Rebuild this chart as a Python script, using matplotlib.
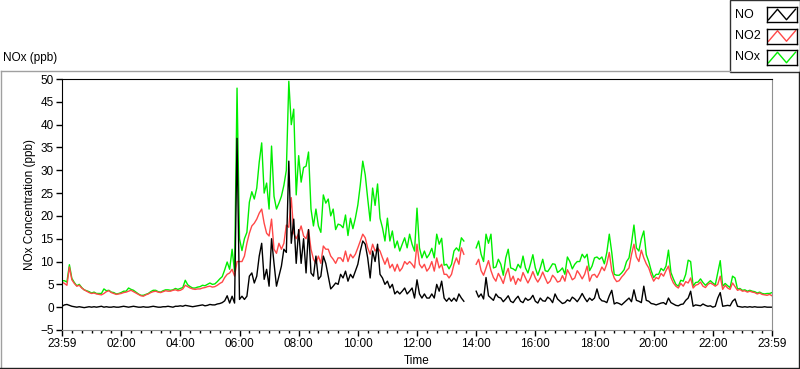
import matplotlib
matplotlib.use('Agg')
import matplotlib.pyplot as plt
import numpy as np
from matplotlib.lines import Line2D
from matplotlib.patches import Rectangle

nan = np.nan

# samples every 5 minutes, 23:59 -> 23:59 next day (289 points)
# night 00:00-05:35
no_night = [0.2, 0.5, 0.6, 0.4, 0.2, 0.1, 0.0, 0.1, 0.0, -0.1,
            0.0, 0.1, 0.0, 0.1, 0.0, 0.1, 0.2, 0.0, 0.1, 0.0,
            0.0, 0.1, 0.0, 0.0, 0.1, 0.2, 0.1, 0.0, 0.1, 0.2,
            0.1, 0.0, 0.0, 0.1, 0.0, 0.0, 0.1, 0.2, 0.1, 0.0,
            0.0, 0.1, 0.1, 0.2, 0.1, 0.0, 0.2, 0.2, 0.3, 0.2,
            0.4, 0.3, 0.2, 0.1, 0.2, 0.3, 0.4, 0.5, 0.3, 0.4,
            0.6, 0.5, 0.5, 0.7, 0.8, 1.0, 1.4, 2.5]
no2_night = [5.5, 5.2, 4.8, 8.8, 6.0, 5.2, 4.6, 4.8, 4.2, 3.8,
             3.5, 3.2, 3.0, 3.1, 2.9, 2.8, 2.7, 3.0, 3.4, 3.6,
             3.2, 3.0, 2.8, 2.9, 3.0, 3.2, 3.3, 3.5, 3.7, 3.4,
             3.1, 2.8, 2.5, 2.4, 2.7, 2.9, 3.2, 3.4, 3.5, 3.3,
             3.2, 3.4, 3.6, 3.5, 3.5, 3.7, 3.8, 3.6, 3.7, 4.0,
             4.8, 4.5, 4.2, 4.0, 3.9, 4.0, 4.0, 4.2, 4.3, 4.5,
             4.6, 4.4, 4.5, 4.8, 5.2, 5.5, 6.5, 7.2]
nox_night = [5.8, 5.8, 5.5, 9.3, 6.3, 5.4, 4.7, 5.0, 4.3, 3.8,
             3.6, 3.4, 3.1, 3.3, 3.0, 3.0, 3.0, 4.0, 3.6, 3.7,
             3.3, 3.2, 2.9, 3.0, 3.2, 3.5, 3.5, 4.2, 3.9, 3.7,
             3.3, 2.9, 2.6, 2.6, 2.8, 3.0, 3.4, 3.7, 3.7, 3.4,
             3.3, 3.6, 3.8, 3.8, 3.7, 3.8, 4.1, 3.9, 4.1, 4.3,
             5.9, 4.9, 4.5, 4.2, 4.2, 4.4, 4.5, 4.8, 4.7, 5.0,
             5.3, 5.0, 5.1, 5.6, 6.2, 6.7, 8.2, 9.9]

# day 05:40-13:35
no_day = [0.9, 2.4, 0.9, 37.0, 1.7, 2.4, 1.7, 2.4, 6.8, 7.5,
          5.3, 6.8, 11.2, 14.0, 6.1, 8.3, 4.6, 15.0, 9.6, 4.6,
          6.8, 9.0, 12.7, 12.0, 32.0, 14.0, 19.3, 9.6, 17.0, 9.6,
          15.0, 7.5, 17.0, 7.5, 6.8, 11.2, 6.1, 6.8, 11.2, 9.6,
          6.8, 4.0, 4.6, 5.3, 5.0, 7.2, 6.4, 7.9, 5.7, 7.2,
          6.4, 7.9, 9.4, 12.3, 14.5, 13.8, 10.8, 6.4, 12.3, 10.0,
          13.8, 7.2, 6.4, 5.0, 5.7, 4.2, 5.0, 2.9, 3.5, 2.9,
          3.5, 4.2, 2.9, 3.5, 4.2, 2.0, 6.0, 2.9, 2.0, 2.9,
          2.0, 2.0, 2.9, 2.0, 5.0, 3.5, 5.7, 2.0, 1.3, 2.0,
          1.3, 2.0, 1.3, 2.9, 2.0, 1.3]
no2_day = [7.5, 8.3, 6.8, 10.0, 10.0, 10.0, 11.2, 14.0, 16.2, 17.8,
           18.4, 19.3, 20.6, 21.5, 18.4, 16.2, 15.6, 19.3, 12.7, 11.8,
           14.0, 12.7, 14.0, 18.0, 17.5, 24.0, 16.2, 15.0, 16.2, 17.8,
           15.6, 15.0, 17.0, 12.7, 10.5, 9.6, 11.2, 9.6, 13.4, 12.7,
           12.7, 11.2, 10.5, 9.6, 10.8, 10.8, 10.0, 12.3, 10.0, 11.6,
           10.8, 11.6, 13.0, 14.5, 16.0, 15.2, 13.0, 11.6, 13.8, 12.3,
           13.0, 12.3, 10.8, 9.4, 10.8, 8.6, 9.4, 7.9, 9.4, 7.9,
           8.6, 10.0, 9.4, 10.0, 9.4, 8.6, 13.8, 9.4, 8.6, 9.4,
           7.9, 8.6, 10.0, 7.9, 10.8, 8.6, 9.4, 7.2, 7.2, 6.4,
           7.2, 9.4, 10.8, 9.4, 13.0, 11.6]
nox_day = [8.3, 12.7, 7.8, 48.0, 15.0, 12.4, 15.0, 16.4, 23.0, 25.3,
           23.7, 26.1, 31.8, 36.0, 25.0, 27.2, 21.5, 35.3, 24.3, 21.5,
           22.8, 24.3, 26.7, 30.0, 49.5, 40.0, 43.4, 24.6, 33.2, 27.4,
           30.6, 30.9, 34.0, 21.5, 17.8, 21.5, 17.8, 16.4, 24.6, 22.8,
           23.7, 20.0, 21.5, 17.0, 18.2, 18.0, 17.4, 20.2, 15.7, 19.5,
           17.2, 19.5, 22.4, 26.8, 32.0, 29.0, 23.8, 18.9, 26.1, 22.3,
           27.0, 19.5, 17.4, 14.5, 19.5, 14.5, 16.7, 13.0, 14.5, 12.3,
           13.8, 15.2, 13.0, 16.0, 13.8, 12.3, 21.7, 13.0, 10.8, 12.3,
           10.8, 11.6, 12.9, 10.8, 16.0, 13.8, 15.1, 9.2, 9.4, 8.4,
           9.4, 12.3, 13.0, 12.3, 15.2, 14.5]

# no data 13:40-13:55
gap = [nan, nan, nan, nan]

# afternoon / evening 14:00-24:00
no_eve = [3.5, 2.2, 2.9, 1.8, 6.5, 2.5, 2.0, 1.5, 2.9, 2.2,
          2.0, 1.2, 1.8, 2.5, 1.3, 1.0, 1.8, 2.4, 1.3, 1.0,
          2.0, 1.5, 1.8, 2.6, 1.3, 0.9, 2.0, 1.4, 1.3, 2.2,
          1.8, 1.0, 2.9, 1.8, 1.3, 0.8, 1.0, 1.6, 1.3, 2.2,
          1.8, 1.2, 2.0, 3.0, 2.0, 1.2, 2.0, 1.5, 2.0, 4.0,
          2.0, 1.4, 1.3, 1.0, 2.5, 3.7, 0.7, 1.0, 0.8, 0.5,
          1.0, 1.5, 2.0, 1.2, 3.8, 1.5, 1.3, 1.0, 4.6, 1.5,
          1.3, 0.8, 0.7, 0.5, 0.7, 0.9, 1.0, 0.6, 2.0, 1.0,
          0.7, 0.4, 0.3, 0.6, 0.7, 1.5, 2.0, 3.5, 0.2, 0.5,
          0.4, 0.3, 0.7, 0.4, 0.2, 0.3, 0.0, 0.2, 2.0, 3.2,
          0.2, 0.3, 0.4, 0.3, 1.3, 1.8, 0.2, 0.1, 0.0, 0.1,
          0.0, 0.1, 0.0, 0.1, 0.0, 0.0, 0.0, 0.1, 0.0, 0.0,
          0.0]
no2_eve = [9.4, 10.5, 8.0, 7.0, 8.6, 10.2, 8.0, 6.5, 5.7, 7.4,
           6.4, 5.2, 7.2, 8.5, 5.7, 6.8, 5.0, 6.3, 5.7, 7.6,
           6.4, 5.3, 6.4, 7.8, 6.4, 5.5, 6.4, 7.7, 6.4, 5.2,
           5.7, 7.0, 6.4, 5.5, 5.7, 6.9, 5.7, 8.2, 7.2, 6.0,
           6.4, 8.0, 7.2, 6.2, 7.2, 9.0, 5.7, 7.0, 7.2, 6.5,
           7.5, 8.8, 8.0, 9.5, 12.0, 8.0, 6.4, 5.6, 5.8, 6.6,
           7.2, 8.0, 8.6, 11.5, 13.8, 11.0, 10.0, 12.5, 10.8, 9.5,
           8.6, 7.0, 5.7, 6.5, 6.2, 7.4, 6.8, 8.0, 9.0, 6.5,
           5.3, 4.6, 4.2, 5.2, 4.6, 5.6, 5.3, 6.4, 4.2, 4.8,
           5.0, 5.5, 4.6, 4.3, 5.0, 5.3, 5.0, 4.6, 5.0, 6.8,
           3.9, 4.8, 4.2, 3.9, 5.3, 4.5, 3.7, 3.9, 3.5, 3.6,
           3.3, 3.5, 3.3, 3.2, 2.9, 3.1, 2.8, 2.7, 2.6, 2.8,
           2.5]
nox_eve = [13.0, 14.5, 11.6, 10.0, 16.0, 14.0, 16.0, 8.6, 8.8, 10.5,
           9.4, 7.0, 10.8, 12.7, 8.6, 8.4, 8.0, 9.4, 8.6, 11.2,
           8.6, 7.5, 9.4, 11.5, 8.6, 7.0, 8.6, 10.5, 8.0, 7.8,
           8.6, 9.5, 9.4, 7.6, 8.0, 8.6, 7.2, 11.0, 10.0, 8.4,
           9.4, 10.0, 10.0, 11.6, 10.8, 11.6, 8.0, 9.0, 10.8, 11.0,
           10.5, 11.0, 9.5, 12.0, 16.0, 12.0, 7.2, 7.0, 7.0, 7.5,
           8.2, 10.0, 10.8, 14.0, 18.0, 13.0, 12.3, 15.0, 16.7, 11.5,
           10.0, 8.0, 6.5, 7.2, 7.2, 8.5, 8.0, 9.0, 12.5, 7.6,
           6.2, 5.0, 4.6, 5.9, 5.7, 7.2, 10.3, 10.0, 4.6, 5.4,
           5.5, 6.2, 5.4, 4.8, 5.3, 5.8, 5.3, 4.9, 7.5, 10.2,
           4.6, 5.2, 4.7, 4.3, 6.8, 6.4, 4.0, 4.1, 3.7, 3.8,
           3.5, 3.7, 3.5, 3.4, 3.1, 3.3, 3.0, 2.9, 3.0, 3.0,
           3.2]

no = no_night + no_day + gap + no_eve
no2 = no2_night + no2_day + gap + no2_eve
nox = nox_night + nox_day + gap + nox_eve
hours = np.arange(len(no)) / 12.0

tick_hours = [0, 2, 4, 6, 8, 10, 12, 14, 16, 18, 20, 22, 24]
tick_labels = ['23:59', '02:00', '04:00', '06:00', '08:00', '10:00', '12:00',
               '14:00', '16:00', '18:00', '20:00', '22:00', '23:59']
series_names = ['NO', 'NO2', 'NOx']
series_colors = ['#000000', '#ff4848', '#00ee00']

plt.rcParams['font.family'] = ['Liberation Sans', 'DejaVu Sans']

W, H = 800, 369
fig = plt.figure(figsize=(W / 100, H / 100), dpi=100)


def fx(x):
    return x / W


def fy(y):
    return 1 - y / H


# outer frame (raised look)
fig.add_artist(Line2D([fx(0.5), fx(730)], [fy(70.5), fy(70.5)], color='#a0a0a0', lw=1))
fig.add_artist(Line2D([fx(0.5), fx(0.5)], [fy(70.5), fy(368)], color='#a0a0a0', lw=1))
fig.add_artist(Line2D([fx(0), fx(799)], [fy(367.5), fy(367.5)], color='#202020', lw=1))
fig.add_artist(Line2D([fx(798.5), fx(798.5)], [fy(72), fy(368)], color='#202020', lw=1))

fig.text(fx(3), fy(58), 'NOx (ppb)', fontsize=8.5, va='center', ha='left')

ax = fig.add_axes([fx(62), fy(330), fx(772 - 62), (330 - 79) / H])
ax.plot(hours, nox, color=series_colors[2], lw=1)
ax.plot(hours, no2, color=series_colors[1], lw=1)
ax.plot(hours, no, color=series_colors[0], lw=1)

ax.set_xlim(0, 24)
ax.set_ylim(-5, 50)
ax.set_yticks(range(-5, 51, 5))
ax.set_xticks(tick_hours)
ax.set_xticklabels(tick_labels)
ax.set_xticks(np.arange(0, 24.01, 1 / 3), minor=True)
ax.tick_params(axis='both', which='major', direction='out', length=4, width=1,
               labelsize=8.5, pad=2, colors='black')
ax.tick_params(axis='x', which='minor', direction='out', length=2.5, width=1)
ax.spines['left'].set_color('black')
ax.spines['top'].set_color('black')
ax.spines['right'].set_color('#909090')
ax.spines['bottom'].set_color('#909090')
ax.set_xlabel('Time', fontsize=8.5, labelpad=3)
ax.set_ylabel('NOx Concentration (ppb)', fontsize=8.5, labelpad=3)

# legend box at top right
fig.add_artist(Rectangle((fx(729.5), fy(72)), fx(70), 72 / H, facecolor='white',
                         edgecolor='#303030', lw=1, zorder=-1))
for k, (name, col) in enumerate(zip(series_names, series_colors)):
    top = 7 + 21.5 * k
    fig.text(fx(735), fy(top + 7.5), name, fontsize=9, va='center', ha='left')
    sw = fig.add_axes([fx(767), fy(top + 15), fx(30), 15 / H], zorder=2)
    sw.plot([0.05, 0.35, 0.65, 0.95], [0.15, 0.85, 0.15, 0.85], color=col, lw=1)
    sw.set_xlim(0, 1)
    sw.set_ylim(0, 1)
    sw.set_xticks([])
    sw.set_yticks([])
    for s in sw.spines.values():
        s.set_color('black')
        s.set_linewidth(1)

fig.savefig('out.png', dpi=100)
